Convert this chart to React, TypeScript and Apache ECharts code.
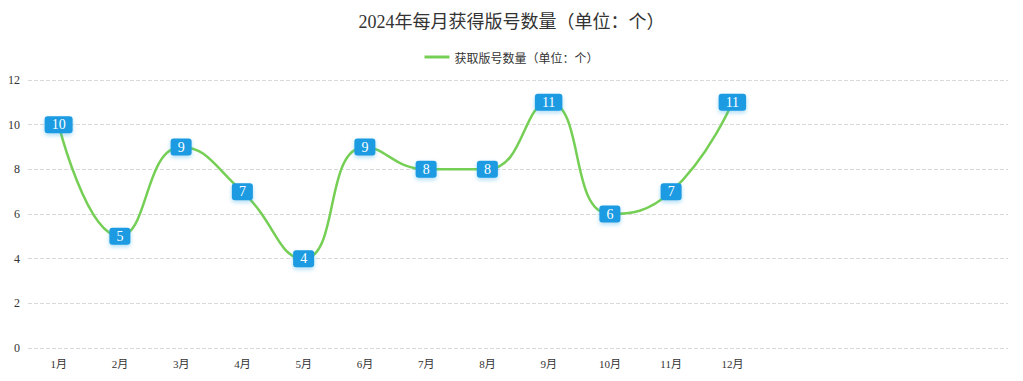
import React, { useEffect, useRef } from "react";
import * as echarts from "echarts";

const titleText = "2024年每月获得版号数量（单位：个）";
const seriesName = "获取版号数量（单位：个）";
const months = ["1月", "2月", "3月", "4月", "5月", "6月", "7月", "8月", "9月", "10月", "11月", "12月", "", "", "", ""];
const values: (number | null)[] = [10, 5, 9, 7, 4, 9, 8, 8, 11, 6, 7, 11, null, null, null, null];
const yTicks = { min: 0, max: 12, interval: 2 };

export default function App() {
  const ref = useRef<HTMLDivElement>(null);
  useEffect(() => {
    if (!ref.current) return;
    const chart = echarts.init(ref.current, undefined, { renderer: "svg" });
    chart.setOption({
      animation: false,
      backgroundColor: "#ffffff",
      title: {
        text: titleText,
        left: "center",
        top: 8,
        textStyle: { fontFamily: "'Liberation Serif', 'Noto Sans CJK SC', serif", fontSize: 18, fontWeight: "normal", color: "#333" },
      },
      legend: {
        top: 46,
        left: "center",
        icon: "rect",
        itemWidth: 25,
        itemHeight: 3,
        textStyle: { fontSize: 12, color: "#333", fontFamily: "'Noto Sans CJK SC', sans-serif" },
        data: [seriesName],
      },
      grid: { left: 28, right: 15, top: 80, bottom: 33, containLabel: false },
      xAxis: {
        type: "category",
        data: months,
        boundaryGap: true,
        axisLine: { show: false },
        axisTick: { show: false },
        axisLabel: { color: "#333", fontSize: 11, margin: 10, interval: 0, fontFamily: "'Liberation Serif', 'Noto Sans CJK SC', serif" },
      },
      yAxis: {
        type: "value",
        min: yTicks.min,
        max: yTicks.max,
        interval: yTicks.interval,
        axisLine: { show: false },
        axisTick: { show: false },
        axisLabel: { color: "#333", fontSize: 12, margin: 8, fontFamily: "'Liberation Serif', serif" },
        splitLine: { lineStyle: { type: "dashed", color: "#d9d9d9" } },
      },
      series: [
        {
          name: seriesName,
          type: "line",
          data: values,
          smooth: true,
          symbol: "circle",
          symbolSize: 4,
          itemStyle: { color: "#76cf55" },
          lineStyle: { color: "#76cf55", width: 2.5 },
          label: {
            show: true,
            position: "inside",
            color: "#ffffff",
            fontSize: 14,
            fontFamily: "'Liberation Serif', serif",
            backgroundColor: "#1d9be2",
            borderRadius: 3,
            padding: [2, 7, 1, 7],
            shadowColor: "rgba(30,155,226,0.35)",
            shadowBlur: 4,
            shadowOffsetY: 2,
          },
        },
      ],
    });
    return () => chart.dispose();
  }, []);
  return <div ref={ref} style={{ position: "fixed", left: 0, top: 0, width: 1023, height: 381 }} />;
}
